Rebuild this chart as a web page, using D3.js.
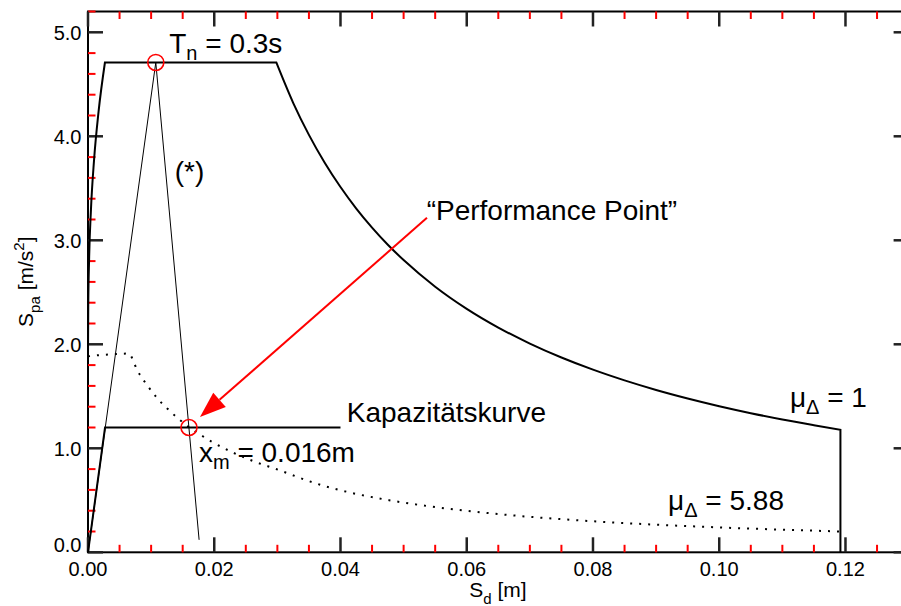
<!DOCTYPE html>
<html>
<head>
<meta charset="utf-8">
<script src="https://cdn.jsdelivr.net/npm/d3@7"></script>
<style>
  html, body { margin: 0; padding: 0; background: #fff; }
  svg { display: block; font-family: "Liberation Sans", Arial, Helvetica, sans-serif; }
</style>
</head>
<body>
<svg id="chart" width="901" height="606"></svg>
<script>
// Elastic demand spectrum (mu = 1) in ADRS format: [Sd (m), Spa (m/s^2)]
const elasticRising = [
  [0, 1.884], [0.0000373, 2.355], [0.000179, 2.826], [0.00047, 3.297],
  [0.000954, 3.768], [0.001678, 4.239], [0.002684, 4.71]
];
const elasticPlateau = [[0.002684, 4.71], [0.02983, 4.71]];
const elasticFalling = [
  [0.02983, 4.71], [0.0325, 4.322], [0.035, 4.014], [0.0375, 3.746],
  [0.04, 3.512], [0.0425, 3.305], [0.045, 3.122], [0.0475, 2.957],
  [0.05, 2.81], [0.055, 2.554], [0.06, 2.341], [0.065, 2.161],
  [0.07, 2.007], [0.075, 1.873], [0.08, 1.756], [0.085, 1.653],
  [0.09, 1.561], [0.095, 1.479], [0.1, 1.405], [0.105, 1.338],
  [0.11, 1.277], [0.115, 1.222], [0.1192, 1.178]
];
const elasticCutoff = [[0.1192, 1.178], [0.1192, 0]];

// Inelastic demand spectrum (mu = 5.88)
const inelasticSpectrum = [
  [0, 1.884], [0.0016, 1.895], [0.0035, 1.903], [0.0064, 1.911],
  [0.0079, 1.739], [0.0095, 1.596], [0.011, 1.48], [0.0128, 1.369],
  [0.0144, 1.28], [0.0161, 1.199], [0.0178, 1.13], [0.0195, 1.067],
  [0.0229, 0.961], [0.0263, 0.874], [0.0298, 0.801], [0.0358, 0.668],
  [0.0417, 0.572], [0.0477, 0.501], [0.0537, 0.445], [0.0597, 0.401],
  [0.0671, 0.356], [0.0746, 0.32], [0.082, 0.291], [0.0895, 0.267],
  [0.097, 0.247], [0.1044, 0.229], [0.1119, 0.214], [0.1192, 0.2]
];

// Bilinear capacity curve
const capacityCurve = [[0, 0], [0.0027, 1.2], [0.04, 1.2]];

// Initial period line (Tn = 0.3 s) and the construction line (*)
const periodLine = [[0, 0], [0.01074, 4.71]];
const starLine = [[0.01074, 4.71], [0.0176, 0.12]];

// Marked points
const markedPoints = [[0.01074, 4.71], [0.016, 1.2]];

// Arrow towards the performance point: [from, to]
const arrowPoints = [[0.0537, 3.216], [0.01774, 1.301]];

// Axis ticks
const xMajorTicks = [0, 0.02, 0.04, 0.06, 0.08, 0.10, 0.12];
const xMinorTicks = [0.005, 0.01, 0.015, 0.025, 0.03, 0.035, 0.045, 0.05, 0.055,
  0.065, 0.07, 0.075, 0.085, 0.09, 0.095, 0.105, 0.11, 0.115, 0.125];
const yMajorTicks = [0, 1, 2, 3, 4, 5];
const yMinorTicks = [0.2, 0.4, 0.6, 0.8, 1.2, 1.4, 1.6, 1.8, 2.2, 2.4, 2.6, 2.8,
  3.2, 3.4, 3.6, 3.8, 4.2, 4.4, 4.6, 4.8, 5.2];

const svg = d3.select("#chart");
const plotLeft = 88, plotRight = 908.6, plotTop = 11.5, plotBottom = 552.3;

const x = d3.scaleLinear().domain([0, 0.13]).range([plotLeft, plotRight]);
const y = d3.scaleLinear().domain([0, 5.2]).range([plotBottom, plotTop]);

const FONT_TICK = 20;
const MAJOR = 15, MINOR = 7.5;

// Frame
svg.append("rect")
  .attr("x", plotLeft).attr("y", plotTop)
  .attr("width", plotRight - plotLeft).attr("height", plotBottom - plotTop)
  .attr("fill", "none").attr("stroke", "#000").attr("stroke-width", 2);

// Tick marks pointing inward on all four sides
function tickLines(cls, xs, ys, len, w, color) {
  const g = svg.append("g");
  g.selectAll(`line.${cls}b`).data(xs).join("line").attr("class", `${cls}b`)
    .attr("x1", v => x(v)).attr("x2", v => x(v))
    .attr("y1", plotBottom).attr("y2", plotBottom - len)
    .attr("stroke", color).attr("stroke-width", w);
  g.selectAll(`line.${cls}t`).data(xs).join("line").attr("class", `${cls}t`)
    .attr("x1", v => x(v)).attr("x2", v => x(v))
    .attr("y1", plotTop).attr("y2", plotTop + len)
    .attr("stroke", color).attr("stroke-width", w);
  g.selectAll(`line.${cls}l`).data(ys).join("line").attr("class", `${cls}l`)
    .attr("y1", v => y(v)).attr("y2", v => y(v))
    .attr("x1", plotLeft).attr("x2", plotLeft + len)
    .attr("stroke", color).attr("stroke-width", w);
  g.selectAll(`line.${cls}r`).data(ys).join("line").attr("class", `${cls}r`)
    .attr("y1", v => y(v)).attr("y2", v => y(v))
    .attr("x1", plotRight).attr("x2", plotRight - len)
    .attr("stroke", color).attr("stroke-width", w);
}
tickLines("minor", xMinorTicks, yMinorTicks, MINOR, 2, "#ff0000");
tickLines("major", xMajorTicks, yMajorTicks, MAJOR, 2.5, "#222222");

// Tick labels
svg.append("g").selectAll("text").data(xMajorTicks).join("text")
  .attr("x", d => x(d)).attr("y", plotBottom + 24)
  .attr("text-anchor", "middle").attr("font-size", FONT_TICK)
  .text(d => d3.format(".2f")(d));
svg.append("g").selectAll("text").data(yMajorTicks).join("text")
  .attr("x", plotLeft - 6.5).attr("y", d => d === 0 ? y(d) : y(d) + 7.5)
  .attr("text-anchor", "end").attr("font-size", FONT_TICK)
  .text(d => d3.format(".1f")(d));

const line = d3.line().x(d => x(d[0])).y(d => y(d[1]));
const smooth = d3.line().curve(d3.curveMonotoneX).x(d => x(d[0])).y(d => y(d[1]));

// Thin construction lines
[periodLine, starLine].forEach(seg =>
  svg.append("path").datum(seg).attr("d", line)
    .attr("fill", "none").attr("stroke", "#000").attr("stroke-width", 1));

// Inelastic spectrum (dotted)
svg.append("path").datum(inelasticSpectrum).attr("d", smooth)
  .attr("fill", "none").attr("stroke", "#000").attr("stroke-width", 2)
  .attr("stroke-dasharray", "2 7").attr("stroke-linecap", "butt");

// Elastic spectrum
svg.append("path")
  .attr("d", smooth(elasticRising) + line(elasticPlateau).replace("M", "L") +
             smooth(elasticFalling).replace("M", "L") + line(elasticCutoff).replace("M", "L"))
  .attr("fill", "none").attr("stroke", "#000").attr("stroke-width", 2)
  .attr("stroke-linejoin", "miter");

// Capacity curve
svg.append("path").datum(capacityCurve).attr("d", line)
  .attr("fill", "none").attr("stroke", "#000").attr("stroke-width", 2);

// Marked points
svg.append("g").selectAll("circle").data(markedPoints).join("circle")
  .attr("cx", d => x(d[0])).attr("cy", d => y(d[1])).attr("r", 8)
  .attr("fill", "none").attr("stroke", "#ff0000").attr("stroke-width", 1.6);

// Arrow
{
  const [p0, p1] = arrowPoints.map(d => [x(d[0]), y(d[1])]);
  const ang = Math.atan2(p1[1] - p0[1], p1[0] - p0[0]);
  const len = 26, hw = 9.5;
  const bx = p1[0] - len * Math.cos(ang), by = p1[1] - len * Math.sin(ang);
  svg.append("line")
    .attr("x1", p0[0]).attr("y1", p0[1]).attr("x2", bx).attr("y2", by)
    .attr("stroke", "#ff0000").attr("stroke-width", 2);
  svg.append("polygon")
    .attr("points", [
      [p1[0], p1[1]],
      [bx + hw * Math.sin(ang), by - hw * Math.cos(ang)],
      [bx - hw * Math.sin(ang), by + hw * Math.cos(ang)]
    ].map(p => p.join(",")).join(" "))
    .attr("fill", "#ff0000");
}

// Annotation text with optional subscript/superscript: parts = [[text, kind?], ...]
function richText(parent, px, py, parts, size, subSize) {
  const t = parent.append("text").attr("x", px).attr("y", py).attr("font-size", size).attr("fill", "#000");
  let shift = 0;
  parts.forEach(([txt, kind]) => {
    const target = kind === "sub" ? 7 : kind === "sup" ? -9 : 0;
    t.append("tspan").attr("dy", target - shift)
      .attr("font-size", kind ? subSize : size).text(txt);
    shift = target;
  });
  return t;
}

richText(svg, x(0.01287), y(4.8), [["T"], ["n", "sub"], [" = 0.3s"]], 28, 20);
richText(svg, x(0.01375), y(3.57), [["(*)"]], 28, 20);
richText(svg, x(0.05365), y(3.2), [["\u201CPerformance Point\u201D"]], 28, 20);
richText(svg, x(0.0410), y(1.256), [["Kapazit\u00E4tskurve"]], 28, 20);
richText(svg, x(0.01758), y(0.87), [["x"], ["m", "sub"], [" = 0.016m"]], 28, 20);
richText(svg, x(0.1112), y(1.398), [["\u03BC"], ["\u0394", "sub"], [" = 1"]], 28, 20);
richText(svg, x(0.0919), y(0.408), [["\u03BC"], ["\u0394", "sub"], [" = 5.88"]], 28, 20);

// Axis titles
richText(svg, (plotLeft + plotRight) / 2 - 29, 597, [["S"], ["d", "sub"], [" [m]"]], 21, 15);
const yl = svg.append("g").attr("transform", `translate(33,${(plotTop + plotBottom) / 2}) rotate(-90)`);
richText(yl, -45, 0, [["S"], ["pa", "sub"], [" [m/s"], ["2", "sup"], ["]"]], 21, 15);
</script>
</body>
</html>
